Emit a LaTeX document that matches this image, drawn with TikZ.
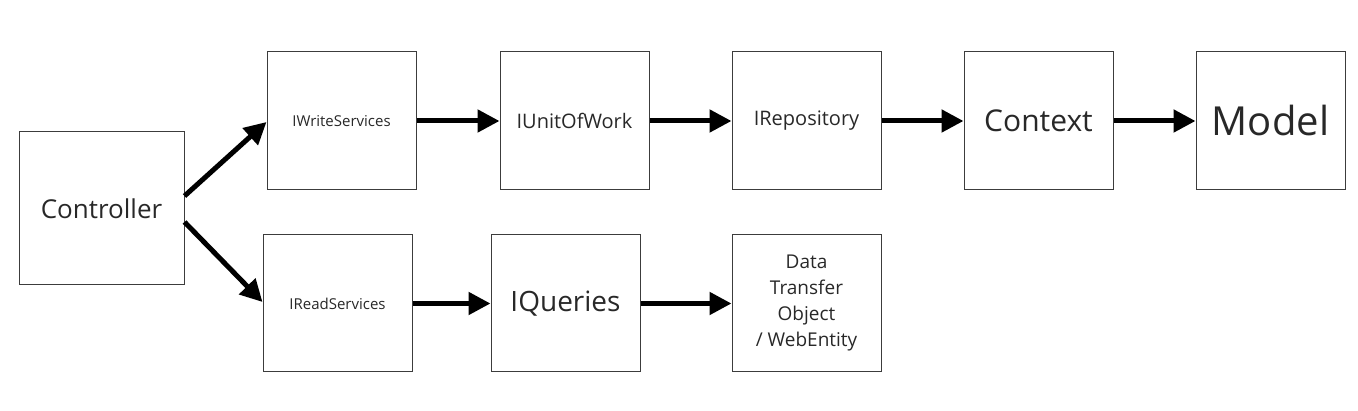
\documentclass[tikz,border=0pt]{standalone}
\usepackage{fontspec}
\setmainfont{Open Sans}
\usetikzlibrary{arrows.meta}
\definecolor{boxline}{RGB}{60,60,60}
\definecolor{txt}{RGB}{40,40,40}
\tikzset{
    box/.style={draw=boxline, line width=1pt, rectangle, minimum width=149pt, minimum height=138pt, text=txt, align=center, inner sep=2pt},
    flow/.style={-{Triangle[length=22pt,width=22pt]}, line width=5pt, black}
}
\newcommand{\fs}[1]{\fontsize{#1}{\numexpr#1*135/100\relax}\selectfont}

\begin{document}
\begin{tikzpicture}[x=1pt,y=-1pt]
    \useasboundingbox (0,0) rectangle (1358,411);
    \node[box, minimum width=165pt, minimum height=153pt, font=\fs{26}] (ctrl) at (101.5,208.5) {Controller};
    \node[box, font=\fs{15}] (wserv) at (341.5,121) {IWriteServices};
    \node[box, font=\fs{20}] (uow) at (574.5,121) {IUnitOfWork};
    \node[box, font=\fs{20}] (repo) at (806.5,121) {IRepository};
    \node[box, font=\fs{30}] (ctx) at (1038.5,121) {Context};
    \node[box, font=\fs{40}] (model) at (1270.5,121) {Model};
    \node[box, minimum height=137pt, font=\fs{15}] (rserv) at (337.5,303.5) {IReadServices};
    \node[box, minimum height=137pt, font=\fs{28}] (query) at (565.5,303.5) {IQueries};
    \node[box, minimum height=137pt, font=\fs{19}] (dto) at (806.5,303.5) {Data\\Transfer\\Object\\/ WebEntity};

    \draw[flow] (ctrl.east |- 0,196) -- (wserv.west |- 0,122);
    \draw[flow] (ctrl.east |- 0,222) -- (rserv.west |- 0,302);
    \draw[flow] (wserv) -- (uow);
    \draw[flow] (uow) -- (repo);
    \draw[flow] (repo) -- (ctx);
    \draw[flow] (ctx) -- (model);
    \draw[flow] (rserv) -- (query);
    \draw[flow] (query) -- (dto);
\end{tikzpicture}
\end{document}
